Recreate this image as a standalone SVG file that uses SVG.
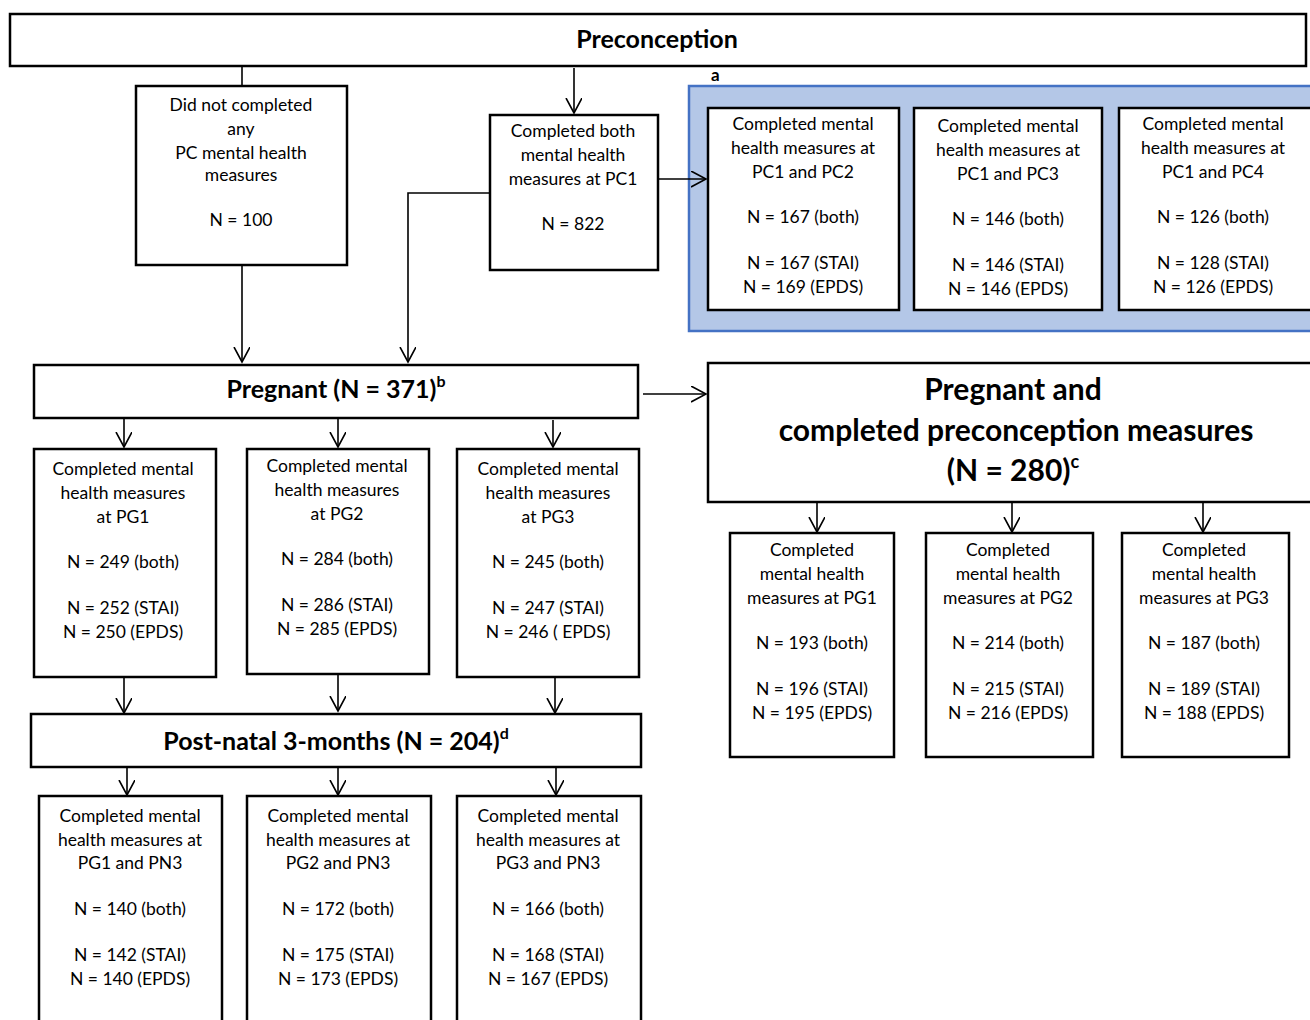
<svg xmlns="http://www.w3.org/2000/svg" width="1310" height="1020" viewBox="0 0 1310 1020">
<style>
.b{fill:#fff;stroke:#000;stroke-width:2.5}
.t{font-family:Lato,"Open Sans",sans-serif;font-size:17.5px;text-anchor:middle;fill:#000}
.h{font-family:Lato,"Open Sans",sans-serif;font-weight:bold;font-size:25px;text-anchor:middle;fill:#000}
.H{font-family:Lato,"Open Sans",sans-serif;font-weight:bold;font-size:30px;text-anchor:middle;fill:#000}
.s{font-size:16px}
.c{fill:none;stroke:#000;stroke-width:1.6}
</style>
<defs>
<marker id="a" markerWidth="20" markerHeight="20" refX="15" refY="8" orient="auto" markerUnits="userSpaceOnUse">
<polyline points="0,0 15,8 0,16" fill="none" stroke="#000" stroke-width="1.6"/>
</marker>
</defs>
<rect width="1310" height="1020" fill="#fff"/>

<g id="preconception">
<rect class="b" x="10" y="14" width="1296" height="52"/>
<text class="h" x="657" y="48">Preconception</text>
</g>

<g id="notcompleted">
<rect class="b" x="136" y="86" width="211" height="179"/>
<text class="t" x="241" y="111">Did not completed</text>
<text class="t" x="241" y="135">any</text>
<text class="t" x="241" y="159">PC mental health</text>
<text class="t" x="241" y="181">measures</text>
<text class="t" x="241" y="226">N = 100</text>
</g>

<g id="pc1">
<rect class="b" x="490" y="115" width="168" height="155"/>
<text class="t" x="573" y="137">Completed both</text>
<text class="t" x="573" y="161">mental health</text>
<text class="t" x="573" y="185">measures at PC1</text>
<text class="t" x="573" y="230">N = 822</text>
</g>

<g id="pcgroup">
<rect x="689" y="86" width="630" height="245" fill="#b4c7e7" stroke="#4472c4" stroke-width="2.5"/>
<text x="711" y="81" font-family="Lato,sans-serif" font-weight="bold" font-size="17">a</text>
</g>

<g id="pc1pc2">
<rect class="b" x="708" y="108" width="191" height="202"/>
<text class="t" x="803" y="130">Completed mental</text>
<text class="t" x="803" y="154">health measures at</text>
<text class="t" x="803" y="178">PC1 and PC2</text>
<text class="t" x="803" y="223">N = 167 (both)</text>
<text class="t" x="803" y="269">N = 167 (STAI)</text>
<text class="t" x="803" y="293">N = 169 (EPDS)</text>
</g>

<g id="pc1pc3">
<rect class="b" x="914" y="108" width="188" height="202"/>
<text class="t" x="1008" y="132">Completed mental</text>
<text class="t" x="1008" y="156">health measures at</text>
<text class="t" x="1008" y="180">PC1 and PC3</text>
<text class="t" x="1008" y="225">N = 146 (both)</text>
<text class="t" x="1008" y="271">N = 146 (STAI)</text>
<text class="t" x="1008" y="295">N = 146 (EPDS)</text>
</g>

<g id="pc1pc4">
<rect class="b" x="1119" y="108" width="200" height="202"/>
<text class="t" x="1213" y="130">Completed mental</text>
<text class="t" x="1213" y="154">health measures at</text>
<text class="t" x="1213" y="178">PC1 and PC4</text>
<text class="t" x="1213" y="223">N = 126 (both)</text>
<text class="t" x="1213" y="269">N = 128 (STAI)</text>
<text class="t" x="1213" y="293">N = 126 (EPDS)</text>
</g>

<g id="pregnant">
<rect class="b" x="34" y="365" width="604" height="53"/>
<text class="h" x="336" y="398">Pregnant (N = 371)<tspan class="s" dy="-11">b</tspan></text>
</g>

<g id="pregpc">
<rect class="b" x="708" y="363" width="610" height="139"/>
<text class="H" x="1013" y="400">Pregnant and</text>
<text class="H" x="1016" y="441">completed preconception measures</text>
<text class="H" x="1013" y="481">(N = 280)<tspan font-size="18" dy="-13">c</tspan></text>
</g>

<g id="pg1">
<rect class="b" x="34" y="449" width="182" height="228"/>
<text class="t" x="123" y="475">Completed mental</text>
<text class="t" x="123" y="499">health measures</text>
<text class="t" x="123" y="523">at PG1</text>
<text class="t" x="123" y="568">N = 249 (both)</text>
<text class="t" x="123" y="614">N = 252 (STAI)</text>
<text class="t" x="123" y="638">N = 250 (EPDS)</text>
</g>

<g id="pg2">
<rect class="b" x="247" y="449" width="182" height="225"/>
<text class="t" x="337" y="472">Completed mental</text>
<text class="t" x="337" y="496">health measures</text>
<text class="t" x="337" y="520">at PG2</text>
<text class="t" x="337" y="565">N = 284 (both)</text>
<text class="t" x="337" y="611">N = 286 (STAI)</text>
<text class="t" x="337" y="635">N = 285 (EPDS)</text>
</g>

<g id="pg3">
<rect class="b" x="457" y="449" width="182" height="228"/>
<text class="t" x="548" y="475">Completed mental</text>
<text class="t" x="548" y="499">health measures</text>
<text class="t" x="548" y="523">at PG3</text>
<text class="t" x="548" y="568">N = 245 (both)</text>
<text class="t" x="548" y="614">N = 247 (STAI)</text>
<text class="t" x="548" y="638">N = 246 ( EPDS)</text>
</g>

<g id="postnatal">
<rect class="b" x="31" y="714" width="610" height="53"/>
<text class="h" x="336" y="750">Post-natal 3-months (N = 204)<tspan class="s" dy="-11">d</tspan></text>
</g>

<g id="pn1">
<rect class="b" x="39" y="796" width="183" height="240"/>
<text class="t" x="130" y="822">Completed mental</text>
<text class="t" x="130" y="846">health measures at</text>
<text class="t" x="130" y="869">PG1 and PN3</text>
<text class="t" x="130" y="915">N = 140 (both)</text>
<text class="t" x="130" y="961">N = 142 (STAI)</text>
<text class="t" x="130" y="985">N = 140 (EPDS)</text>
</g>

<g id="pn2">
<rect class="b" x="247" y="796" width="184" height="240"/>
<text class="t" x="338" y="822">Completed mental</text>
<text class="t" x="338" y="846">health measures at</text>
<text class="t" x="338" y="869">PG2 and PN3</text>
<text class="t" x="338" y="915">N = 172 (both)</text>
<text class="t" x="338" y="961">N = 175 (STAI)</text>
<text class="t" x="338" y="985">N = 173 (EPDS)</text>
</g>

<g id="pn3">
<rect class="b" x="457" y="796" width="184" height="240"/>
<text class="t" x="548" y="822">Completed mental</text>
<text class="t" x="548" y="846">health measures at</text>
<text class="t" x="548" y="869">PG3 and PN3</text>
<text class="t" x="548" y="915">N = 166 (both)</text>
<text class="t" x="548" y="961">N = 168 (STAI)</text>
<text class="t" x="548" y="985">N = 167 (EPDS)</text>
</g>

<g id="rpg1">
<rect class="b" x="730" y="533" width="164" height="224"/>
<text class="t" x="812" y="556">Completed</text>
<text class="t" x="812" y="580">mental health</text>
<text class="t" x="812" y="604">measures at PG1</text>
<text class="t" x="812" y="649">N = 193 (both)</text>
<text class="t" x="812" y="695">N = 196 (STAI)</text>
<text class="t" x="812" y="719">N = 195 (EPDS)</text>
</g>

<g id="rpg2">
<rect class="b" x="926" y="533" width="167" height="224"/>
<text class="t" x="1008" y="556">Completed</text>
<text class="t" x="1008" y="580">mental health</text>
<text class="t" x="1008" y="604">measures at PG2</text>
<text class="t" x="1008" y="649">N = 214 (both)</text>
<text class="t" x="1008" y="695">N = 215 (STAI)</text>
<text class="t" x="1008" y="719">N = 216 (EPDS)</text>
</g>

<g id="rpg3">
<rect class="b" x="1122" y="533" width="167" height="224"/>
<text class="t" x="1204" y="556">Completed</text>
<text class="t" x="1204" y="580">mental health</text>
<text class="t" x="1204" y="604">measures at PG3</text>
<text class="t" x="1204" y="649">N = 187 (both)</text>
<text class="t" x="1204" y="695">N = 189 (STAI)</text>
<text class="t" x="1204" y="719">N = 188 (EPDS)</text>
</g>

<g id="connectors">
<line class="c" x1="242" y1="66" x2="242" y2="86"/>
<line class="c" x1="242" y1="265" x2="242" y2="362" marker-end="url(#a)"/>
<line class="c" x1="574" y1="68" x2="574" y2="113" marker-end="url(#a)"/>
<polyline class="c" points="490,193 408,193 408,362" marker-end="url(#a)"/>
<line class="c" x1="658" y1="179" x2="706" y2="179" marker-end="url(#a)"/>
<line class="c" x1="643" y1="394" x2="706" y2="394" marker-end="url(#a)"/>
<line class="c" x1="124" y1="418" x2="124" y2="447" marker-end="url(#a)"/>
<line class="c" x1="338" y1="418" x2="338" y2="447" marker-end="url(#a)"/>
<line class="c" x1="553" y1="420" x2="553" y2="447" marker-end="url(#a)"/>
<line class="c" x1="124" y1="677" x2="124" y2="713" marker-end="url(#a)"/>
<line class="c" x1="338" y1="674" x2="338" y2="711" marker-end="url(#a)"/>
<line class="c" x1="555" y1="677" x2="555" y2="713" marker-end="url(#a)"/>
<line class="c" x1="127" y1="767" x2="127" y2="795" marker-end="url(#a)"/>
<line class="c" x1="338" y1="767" x2="338" y2="795" marker-end="url(#a)"/>
<line class="c" x1="556" y1="767" x2="556" y2="795" marker-end="url(#a)"/>
<line class="c" x1="817" y1="502" x2="817" y2="532" marker-end="url(#a)"/>
<line class="c" x1="1012" y1="502" x2="1012" y2="532" marker-end="url(#a)"/>
<line class="c" x1="1203" y1="502" x2="1203" y2="532" marker-end="url(#a)"/>
</g>
</svg>
